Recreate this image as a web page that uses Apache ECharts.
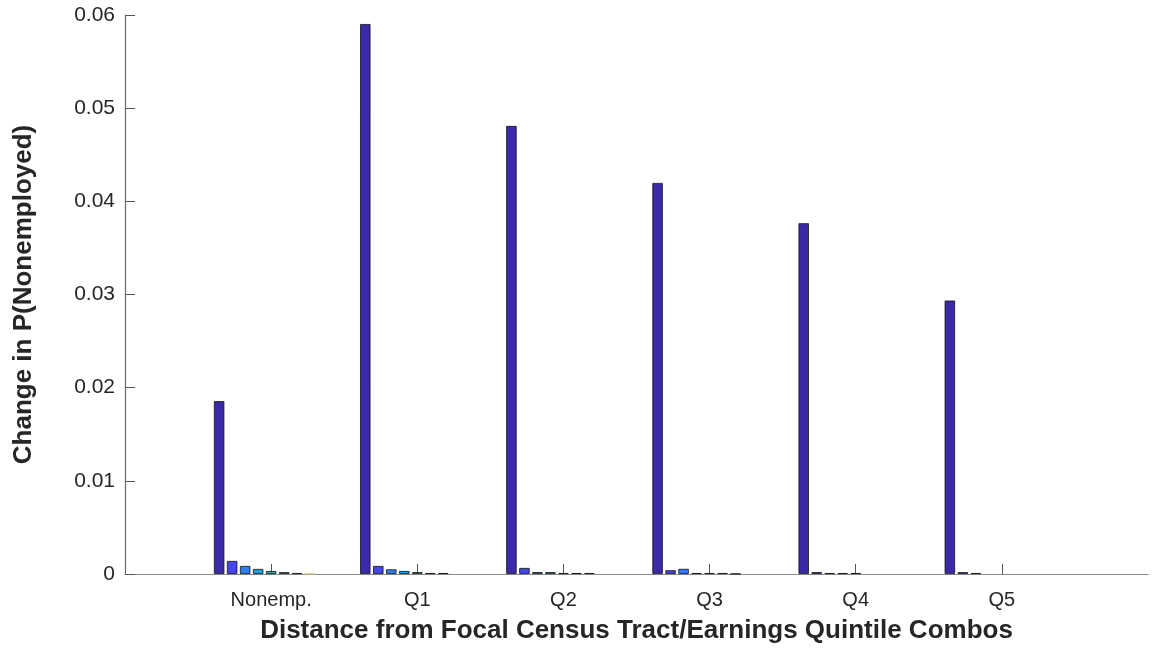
<!DOCTYPE html>
<html>
<head>
<meta charset="utf-8">
<script src="https://cdn.jsdelivr.net/npm/echarts@6/dist/echarts.min.js"></script>
<style>
  html, body { margin: 0; padding: 0; background: #fff; }
  #chart { width: 1152px; height: 649px; }
</style>
</head>
<body>
<div id="chart"></div>
<script>
  // padded with empty slots so the groups sit at 1..6 on a 0..7 range
  var categories = ['', 'Nonemp.', 'Q1', 'Q2', 'Q3', 'Q4', 'Q5', ''];

  // one array per distance bin (9 bars per group); null = nothing drawn
  var bin1 = [0.01855, 0.05903, 0.04809, 0.04197, 0.03765, 0.02935];
  var bin2 = [0.00140, 0.00086, 0.00065, 0.00040, 0.00020, 0.00020];
  var bin3 = [0.00086, 0.00050, 0.00020, 0.00055, 0.00010, 0.00010];
  var bin4 = [0.00054, 0.00032, 0.00020, 0.00010, 0.00010, null];
  var bin5 = [0.00032, 0.00020, 0.00010, 0.00010, 0.00010, null];
  var bin6 = [0.00020, 0.00010, 0.00010, 0.00010, null, null];
  var bin7 = [0.00010, 0.00010, 0.00010, 0.00002, null, null];
  var bin8 = [0.00003, null, null, null, null, null];
  var bin9 = [null, null, null, null, null, null];

  var binColors = ['#3B2AA8', '#4545F0', '#2E7EF0', '#1CA0E0', '#25B0A8',
                   '#55B46A', '#A8BC4C', '#E6BE4A', '#F5E030'];

  var bins = [bin1, bin2, bin3, bin4, bin5, bin6, bin7, bin8, bin9];

  var chart = echarts.init(document.getElementById('chart'));

  var series = bins.map(function (vals, i) {
    return {
      type: 'bar',
      data: [null].concat(vals).concat([null]),
      barWidth: 10.4,
      barGap: '25%',
      itemStyle: {
        color: binColors[i],
        borderColor: i < 7 ? '#111' : '#d8c890',
        borderWidth: 0.8
      },
      emphasis: { disabled: true }
    };
  });

  var option = {
    animation: false,
    textStyle: { fontFamily: 'Liberation Sans, Arial, sans-serif' },
    grid: { left: 125, right: 4, top: 15, bottom: 75, outerBoundsMode: 'none', containLabel: false },
    xAxis: {
      type: 'category',
      data: categories,
      boundaryGap: false,
      name: 'Distance from Focal Census Tract/Earnings Quintile Combos',
      nameLocation: 'middle',
      nameGap: 44,
      nameTextStyle: { fontSize: 26, fontWeight: 'bold', color: '#262626' },
      axisLine: { lineStyle: { color: '#8a8a8a', width: 1.2 } },
      axisTick: {
        inside: true,
        length: 10,
        interval: function (i) { return i > 0 && i < 7; },
        lineStyle: { color: '#555' }
      },
      axisLabel: {
        fontSize: 20,
        color: '#262626',
        margin: 16,
        interval: 0
      },
      splitLine: { show: false }
    },
    yAxis: {
      type: 'value',
      min: 0,
      max: 0.06,
      interval: 0.01,
      name: 'Change in P(Nonemployed)',
      nameLocation: 'middle',
      nameGap: 88,
      nameRotate: 90,
      nameTextStyle: { fontSize: 26, fontWeight: 'bold', color: '#262626' },
      axisLine: { show: true, lineStyle: { color: '#6a6a6a', width: 1.2 } },
      axisTick: { show: true, inside: true, length: 10, lineStyle: { color: '#555' } },
      axisLabel: {
        fontSize: 21,
        color: '#262626',
        margin: 10,
        formatter: function (v) { return v === 0 ? '0' : String(+v.toFixed(2)); }
      },
      splitLine: { show: false }
    },
    series: series
  };

  chart.setOption(option);
</script>
</body>
</html>
